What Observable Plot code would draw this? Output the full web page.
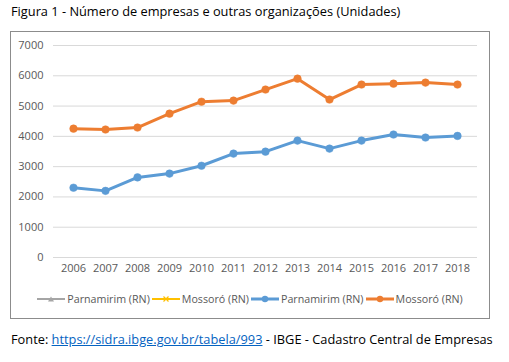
<!DOCTYPE html>
<html><head><meta charset="utf-8">
<script src="https://cdn.jsdelivr.net/npm/d3@7"></script>
<script src="https://cdn.jsdelivr.net/npm/@observablehq/plot@0.6"></script>
<style>
body{margin:0;background:#fff;font-family:"Open Sans",Lato,sans-serif;width:509px;height:362px;position:relative;overflow:hidden}
#title{position:absolute;left:11px;top:2px;font-size:12.8px;color:#000;white-space:nowrap}
#box{position:absolute;left:10px;top:31px;width:480px;height:288px;border:1px solid #8c8c8c;box-sizing:border-box}
#chart{position:absolute;left:0;top:0}
#legend{position:absolute;left:0;right:0;top:259px;height:16px;display:flex;justify-content:center;align-items:center;font-size:10.7px;color:#595959;white-space:nowrap}
#legend .item{display:flex;align-items:center;margin:0 1px}
#legend svg{margin-right:2px}
#footer{position:absolute;left:11px;top:330px;font-size:12.8px;color:#000;white-space:nowrap}
#footer a{color:#0563C1;text-decoration:underline}
</style></head>
<body>
<div id="title">Figura 1 - Número de empresas e outras organizações (Unidades)</div>
<div id="box"><div id="chart"></div><div id="legend"></div></div>
<div id="footer">Fonte: <a href="#">https://sidra.ibge.gov.br/tabela/993</a> - IBGE - Cadastro Central de Empresas</div>
<script>
const years = ["2006","2007","2008","2009","2010","2011","2012","2013","2014","2015","2016","2017","2018"];
const parnamirim = [2305, 2200, 2645, 2770, 3030, 3430, 3495, 3860, 3595, 3860, 4060, 3960, 4015];
const mossoro = [4255, 4225, 4290, 4750, 5145, 5180, 5545, 5905, 5215, 5710, 5740, 5775, 5710];
const yTicks = [0,1000,2000,3000,4000,5000,6000,7000];
const seriesNames = ["Parnamirim (RN)", "Mossoró (RN)"];
const seriesColors = ["#5B9BD5", "#ED7D31"];
const legendNames = ["Parnamirim (RN)", "Mossoró (RN)", "Parnamirim (RN)", "Mossoró (RN)"];
const legendColors = ["#A5A5A5", "#FFC000", "#5B9BD5", "#ED7D31"];
const legendSymbols = ["triangle", "times", "circle", "circle"];

const data = [];
years.forEach((y, i) => {
  data.push({year: y, value: parnamirim[i], series: "p"});
  data.push({year: y, value: mossoro[i], series: "m"});
});

const chart = Plot.plot({
  width: 478, height: 250,
  marginLeft: 42, marginRight: 12, marginTop: 13, marginBottom: 25,
  style: {fontFamily: "'Open Sans',Lato,sans-serif", fontSize: "11px", color: "#595959", background: "transparent"},
  x: {type: "point", domain: years, padding: 0.5, label: null, tickSize: 0, tickPadding: 7},
  y: {domain: [0, 7000], ticks: yTicks, tickFormat: d => String(d), label: null, tickSize: 0, tickPadding: 10},
  color: {domain: ["p", "m"], range: seriesColors},
  marks: [
    Plot.ruleY(yTicks, {stroke: "#d9d9d9", strokeWidth: 1}),
    Plot.line(data, {x: "year", y: "value", z: "series", stroke: "series", strokeWidth: 3, strokeLinejoin: "round"}),
    Plot.dot(data, {x: "year", y: "value", fill: "series", r: 3.8, stroke: "series", strokeWidth: 0.5})
  ]
});
document.getElementById("chart").appendChild(chart);

const legend = document.getElementById("legend");
legendNames.forEach((name, i) => {
  const item = document.createElement("div");
  item.className = "item";
  const c = legendColors[i];
  let sym = "";
  if (legendSymbols[i] === "triangle") sym = `<path d="M14,5.5 L17,10.5 L11,10.5 Z" fill="${c}"/>`;
  else if (legendSymbols[i] === "times") sym = `<path d="M11.5,5.5 L16.5,10.5 M16.5,5.5 L11.5,10.5" stroke="${c}" stroke-width="1.2"/>`;
  else sym = `<circle cx="14" cy="8" r="3.2" fill="${c}"/>`;
  const sw = legendSymbols[i] === "circle" ? 3 : 2;
  item.innerHTML = `<svg width="28" height="16"><line x1="0" x2="28" y1="8" y2="8" stroke="${c}" stroke-width="${sw}"/>${sym}</svg><span>${name}</span>`;
  legend.appendChild(item);
});
</script>
</body></html>
